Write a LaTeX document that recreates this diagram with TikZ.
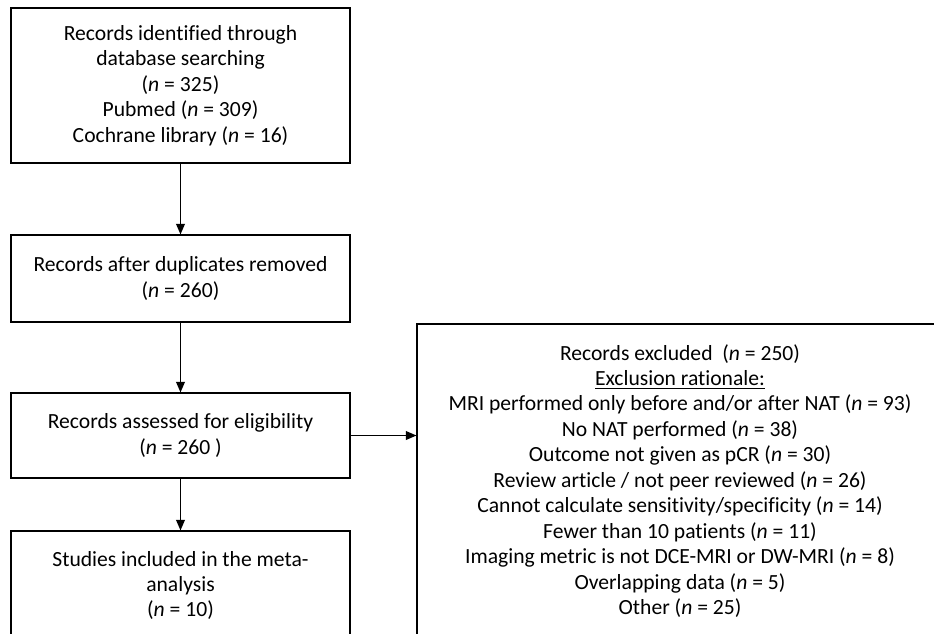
\documentclass[tikz,border=0pt]{standalone}
\usepackage{fontspec}
\setmainfont[Ligatures=NoCommon]{Carlito}
\usetikzlibrary{positioning}
\usetikzlibrary{arrows.meta}

\newcommand{\ncount}[1]{(\textit{n} = #1)}

\begin{document}
\begin{tikzpicture}[x=0.02cm, y=-0.02cm,
                    box/.style={draw, line width=0.7pt, minimum width=6.78cm, align=center,
                    font=\fontsize{12.3}{14.5}\selectfont, inner sep=0pt},
                    arr/.style={-{Triangle[length=6pt, width=5pt]}, line width=0.7pt}]
    \path[use as bounding box, clip] (0,0) rectangle (934,633);
    \fill[white] (0,0) rectangle (934,633);

    \node[box, minimum height=3.1cm] (ident) at (180.5,85.5)
        {Records identified through\\database searching\\\ncount{325}\\Pubmed \ncount{309}\\Cochrane library \ncount{16}};
    \node[box, minimum height=1.74cm] (dupl) at (180.5,278.5)
        {Records after duplicates removed\\\ncount{260}};
    \node[box, minimum height=1.7cm] (elig) at (180.5,435.5)
        {Records assessed for eligibility\\\ncount{260 }};
    \node[box, minimum height=2.18cm] (incl) at (180.5,585.5)
        {Studies included in the meta-\\analysis\\\ncount{10}};
    \node[box, minimum width=10.52cm, minimum height=6.28cm] (excl) at (680,481)
        {Records excluded \ \ncount{250}\\\underline{Exclusion rationale:}\\
         MRI performed only before and/or after NAT \ncount{93}\\
         No NAT performed \ncount{38}\\
         Outcome not given as pCR \ncount{30}\\
         Review article / not peer reviewed \ncount{26}\\
         Cannot calculate sensitivity/specificity \ncount{14}\\
         Fewer than 10 patients \ncount{11}\\
         Imaging metric is not DCE-MRI or DW-MRI \ncount{8}\\
         Overlapping data \ncount{5}\\
         Other \ncount{25}};

    \draw[arr] (ident) -- (dupl);
    \draw[arr] (dupl) -- (elig);
    \draw[arr] (elig) -- (incl);
    \draw[arr] (elig) -- (elig -| excl.west);
\end{tikzpicture}
\end{document}
